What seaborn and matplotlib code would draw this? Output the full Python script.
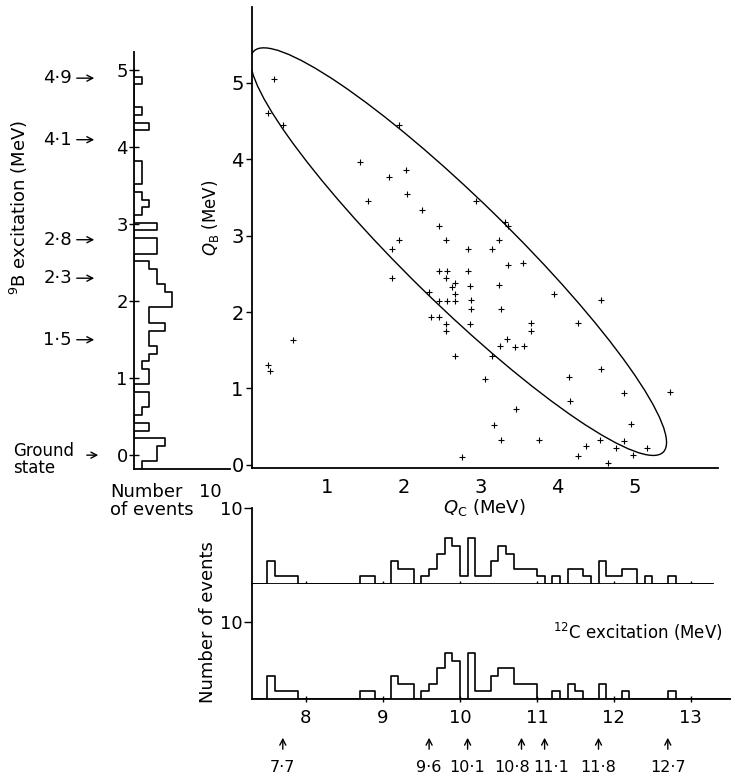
import matplotlib
matplotlib.use("Agg")
import matplotlib.pyplot as plt
from matplotlib.patches import Ellipse
import numpy as np
import pandas as pd
import seaborn as sns

# Q_C vs Q_B scatter (MeV)
qc = [0.31, 0.23, 0.43, 1.93, 1.43, 2.03, 1.81, 2.04, 1.53, 2.94,
      2.23, 2.45, 3.31, 3.35, 1.93, 2.55, 3.24, 1.84, 2.83, 3.14,
      3.36, 3.55, 1.84, 2.45, 2.56, 2.83, 2.55, 2.67, 2.63, 2.86,
      3.24, 2.32, 2.66, 3.95, 2.45, 2.56, 2.66, 2.87, 4.56, 2.87,
      3.26, 2.35, 2.45, 2.55, 2.86, 3.65, 4.27, 2.55, 3.65, 0.55,
      3.34, 3.25, 3.45, 3.56, 2.67, 3.15, 0.23, 0.25, 3.06, 4.56,
      4.15, 5.46, 4.87, 4.16, 3.46, 3.17, 4.96, 3.26, 3.76, 4.55,
      4.86, 4.37, 4.76, 5.17, 4.26, 4.98, 2.76, 4.66]
qb = [5.05, 4.61, 4.44, 4.44, 3.96, 3.86, 3.76, 3.54, 3.45, 3.45,
      3.34, 3.13, 3.18, 3.13, 2.94, 2.94, 2.94, 2.83, 2.83, 2.83,
      2.62, 2.64, 2.44, 2.54, 2.54, 2.54, 2.44, 2.38, 2.33, 2.34,
      2.35, 2.26, 2.24, 2.24, 2.14, 2.15, 2.14, 2.16, 2.16, 2.04,
      2.04, 1.94, 1.94, 1.84, 1.84, 1.86, 1.86, 1.75, 1.75, 1.63,
      1.65, 1.56, 1.54, 1.55, 1.42, 1.42, 1.31, 1.23, 1.13, 1.25,
      1.15, 0.95, 0.94, 0.84, 0.73, 0.52, 0.54, 0.33, 0.33, 0.33,
      0.31, 0.25, 0.22, 0.22, 0.12, 0.13, 0.11, 0.02]

# kinematic boundary ellipse
ell_center = (2.71, 2.79)
ell_axes = (3.74, 0.68)
ell_angle = -44.5

# 9B excitation histogram, 0.1 MeV bins from -0.18
b9_start = -0.18
b9_counts = [1, 3, 3, 4, 0, 2, 0, 1, 2, 2,
             0, 2, 2, 1, 2, 3, 2, 2, 4, 2,
             2, 5, 5, 4, 3, 3, 2, 0, 3, 3,
             0, 3, 0, 1, 2, 1, 0, 1, 1, 1,
             0, 0, 0, 0, 2, 0, 1, 0, 0, 0,
             1, 0]

# 12C excitation histograms, 0.1 MeV bins from 7.3
c12_start = 7.3
c12_top = [0, 0, 3, 1, 1, 1, 0, 0, 0, 0,
           0, 0, 0, 0, 1, 1, 0, 0, 3, 2,
           2, 0, 1, 2, 4, 6, 5, 1, 6, 1,
           1, 3, 5, 4, 2, 2, 2, 1, 0, 1,
           0, 2, 2, 1, 0, 3, 1, 1, 2, 2,
           0, 1, 0, 0, 1, 0, 0, 0, 0, 0,
           0, 0]
c12_bottom = [0, 0, 3, 1, 1, 1, 0, 0, 0, 0,
              0, 0, 0, 0, 1, 1, 0, 0, 3, 2,
              2, 0, 1, 2, 4, 6, 5, 0, 6, 1,
              1, 3, 4, 4, 2, 2, 2, 0, 0, 1,
              0, 2, 1, 0, 0, 2, 0, 0, 1, 0,
              0, 0, 0, 0, 1, 0, 0, 0, 0, 0,
              0, 0]

b9_levels = [4.9, 4.1, 2.8, 2.3, 1.5, 0.0]
b9_labels = ["4·9", "4·1", "2·8", "2·3", "1·5", "Ground\nstate"]
c12_levels = [7.7, 9.6, 10.1, 10.8, 11.1, 11.8, 12.7]
c12_labels = ["7·7", "9·6", "10·1", "10·8", "11·1", "11·8", "12·7"]

sns.set_theme(style="white")
plt.rcParams["font.family"] = ["DejaVu Sans"]
plt.rcParams["mathtext.fontset"] = "dejavusans"
plt.rcParams["axes.linewidth"] = 1.3
for key in ["text.color", "axes.labelcolor", "axes.edgecolor", "xtick.color", "ytick.color"]:
    plt.rcParams[key] = "black"

W, H = 731, 782
fig = plt.figure(figsize=(W / 100, H / 100), dpi=100)


def box(x0, y0, x1, y1):
    # pixel box (top-left origin) -> figure fraction rect
    return [x0 / W, 1 - y1 / H, (x1 - x0) / W, (y1 - y0) / H]


def hist(ax, start, counts, orient="x"):
    edges = np.round(start + 0.1 * np.arange(len(counts) + 1), 2)
    df = pd.DataFrame({"energy": (edges[:-1] + edges[1:]) / 2, "n": counts})
    kw = dict(data=df, weights="n", bins=list(edges), element="step", fill=False,
              color="black", linewidth=1.2, ax=ax)
    if orient == "x":
        sns.histplot(x="energy", **kw)
    else:
        sns.histplot(y="energy", **kw)
    ax.set_xlabel("")
    ax.set_ylabel("")


# scatter
ax_sc = fig.add_axes(box(252, 7, 718, 468))
sns.scatterplot(x=qc, y=qb, marker="+", color="black", s=22, linewidth=0.8, ax=ax_sc)
ax_sc.add_patch(Ellipse(ell_center, 2 * ell_axes[0], 2 * ell_axes[1], angle=ell_angle,
                        fill=False, ec="black", lw=1.0))
ax_sc.set_xlim(0.02, 6.09)
ax_sc.set_ylim(-0.04, 5.99)
ax_sc.set_xticks([1, 2, 3, 4, 5])
ax_sc.set_yticks([0, 1, 2, 3, 4, 5])
ax_sc.tick_params(axis="x", length=0, labelsize=14, pad=7)
ax_sc.tick_params(axis="y", direction="out", length=4, width=1, labelsize=14, pad=2, left=True)
sns.despine(ax=ax_sc)
fig.text(210 / W, 1 - 218 / H, r"$Q_{\mathrm{B}}$ (MeV)", rotation=90, ha="center", va="center", fontsize=12)
fig.text(484 / W, 1 - 508 / H, r"$Q_{\mathrm{C}}$ (MeV)", ha="center", va="center", fontsize=13)

# 9B histogram (horizontal)
ax_b9 = fig.add_axes(box(134, 52, 230, 469))
hist(ax_b9, b9_start, b9_counts, orient="y")
ax_b9.set_xlim(0, 12.5)
ax_b9.set_ylim(-0.18, 5.24)
ax_b9.set_yticks([0, 1, 2, 3, 4, 5])
ax_b9.set_xticks([10])
ax_b9.tick_params(axis="y", direction="inout", length=7, width=1, labelsize=13, pad=1, left=True)
ax_b9.tick_params(axis="x", length=0, labelsize=13, pad=10)
sns.despine(ax=ax_b9)
fig.text(19 / W, 1 - 207 / H, r"$^{9}$B excitation (MeV)", rotation=90, ha="center", va="center", fontsize=13)
fig.text(110 / W, 1 - 483 / H, "Number\nof events", ha="left", va="top", fontsize=13, linespacing=1.0)

arrow_kw = dict(arrowstyle="->,head_length=0.35,head_width=0.18", lw=1.0, color="black")
for lev, lab in zip(b9_levels, b9_labels):
    ground = lev == 0
    tail, head = (84 / W, 101 / W) if ground else (74 / W, 97 / W)
    ax_b9.annotate("", xy=(head, lev), xytext=(tail, lev),
                   xycoords=("figure fraction", "data"), textcoords=("figure fraction", "data"),
                   arrowprops=arrow_kw)
    if ground:
        ax_b9.annotate(lab, xy=(13 / W, lev - 0.06), xycoords=("figure fraction", "data"),
                       ha="left", va="center", fontsize=12, linespacing=0.95)
    else:
        ax_b9.annotate(lab, xy=(72 / W, lev), xycoords=("figure fraction", "data"),
                       ha="right", va="center", fontsize=13)

# 12C histograms
ax_top = fig.add_axes(box(252, 508, 713, 584))
hist(ax_top, c12_start, c12_top)
ax_top.set_xlim(7.30, 7.30 + 461 / 77)
ax_top.set_ylim(0, 10)
ax_top.set_yticks([10])
ax_top.set_xticks([8, 9, 10, 11, 12, 13])
ax_top.set_xticklabels([])
ax_top.tick_params(axis="x", direction="inout", length=5, width=1, bottom=True)
ax_top.tick_params(axis="y", direction="out", length=6, width=1, labelsize=13, pad=1, left=True)
sns.despine(ax=ax_top)

ax_bot = fig.add_axes(box(252, 584, 731, 699))
hist(ax_bot, c12_start, c12_bottom)
ax_bot.set_xlim(7.30, 7.30 + 479 / 77)
ax_bot.set_ylim(0, 115 / 7.7)
ax_bot.set_yticks([10])
ax_bot.set_xticks([8, 9, 10, 11, 12, 13])
ax_bot.tick_params(axis="x", direction="inout", length=5, width=1, labelsize=13, pad=5, bottom=True)
ax_bot.tick_params(axis="y", direction="out", length=6, width=1, labelsize=13, pad=1, left=True)
sns.despine(ax=ax_bot)

fig.text(208 / W, 1 - 622 / H, "Number of events", rotation=90, ha="center", va="center", fontsize=13)
fig.text(553 / W, 1 - 632 / H, r"$^{12}$C excitation (MeV)", ha="left", va="center", fontsize=12)

# crowded labels under the arrows are nudged apart, as in the original
label_nudge = {"10·8": -0.12, "11·1": 0.08}
for lev, lab in zip(c12_levels, c12_labels):
    ax_bot.annotate("", xy=(lev, 1 - 735 / H), xytext=(lev, 1 - 752 / H),
                    xycoords=("data", "figure fraction"), textcoords=("data", "figure fraction"),
                    arrowprops=arrow_kw)
    ax_bot.annotate(lab, xy=(lev + label_nudge.get(lab, 0), 1 - 768 / H),
                    xycoords=("data", "figure fraction"),
                    ha="center", va="center", fontsize=11.5)

fig.savefig("out.png", dpi=100)
